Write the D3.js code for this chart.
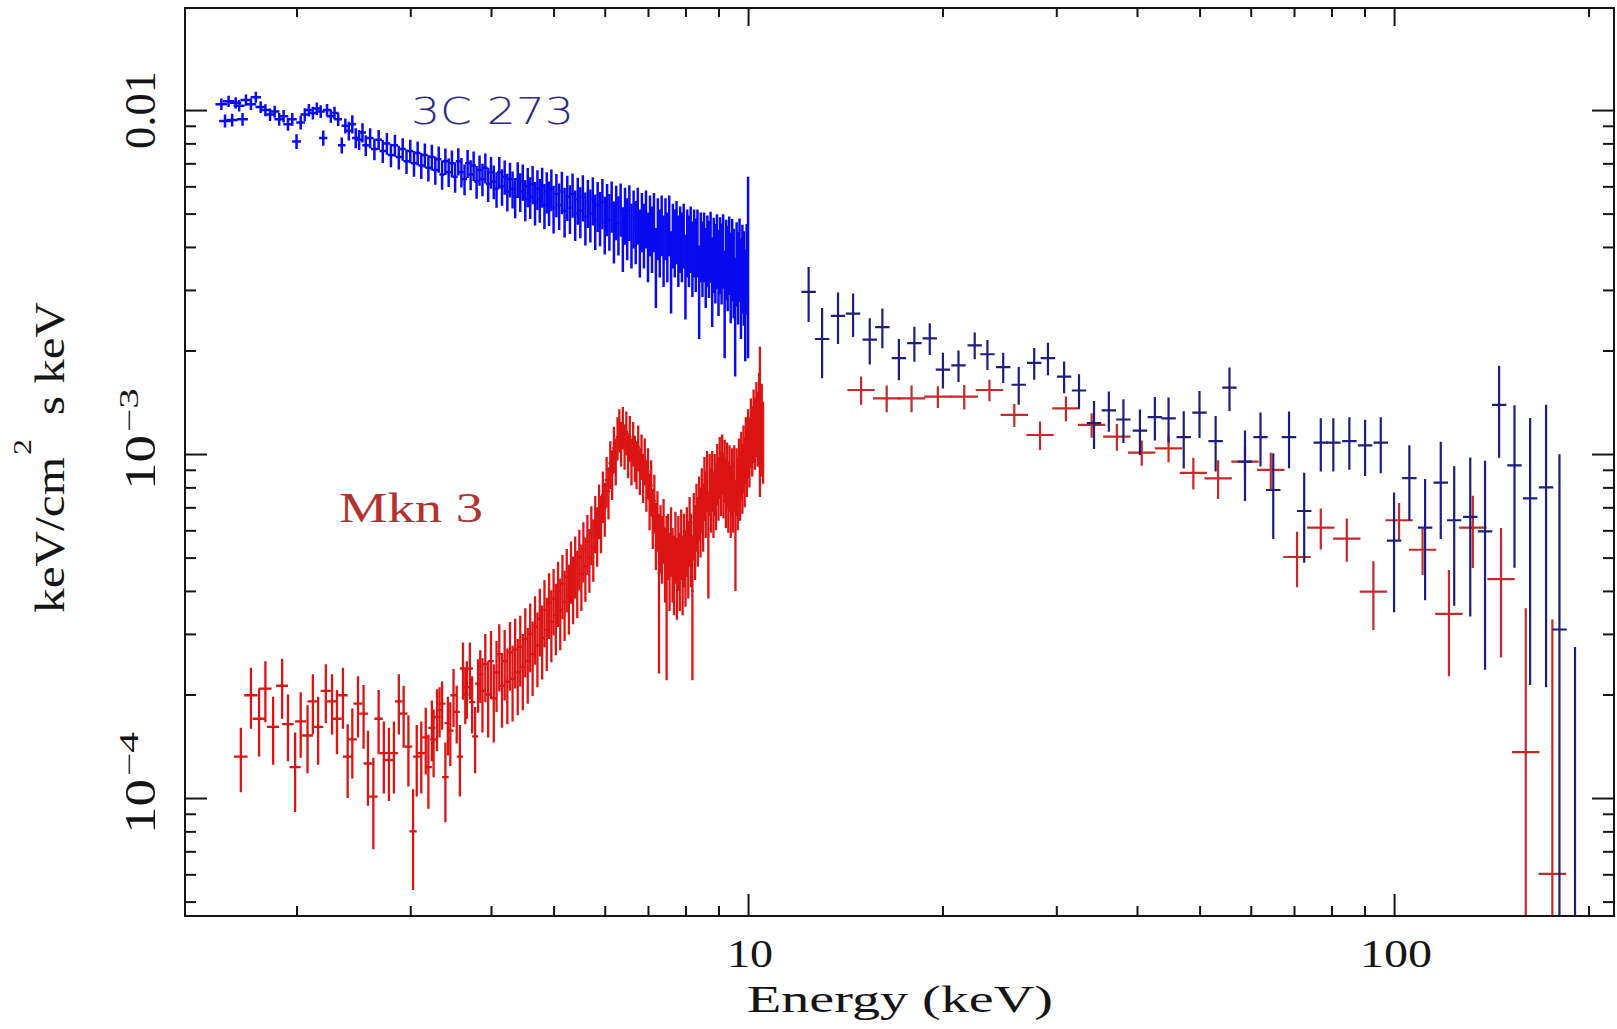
<!DOCTYPE html>
<html>
<head>
<meta charset="utf-8">
<script src="https://cdn.jsdelivr.net/npm/d3@7"></script>
<style>
  body { margin: 0; background: #fff; }
  svg { display: block; }
  .label { font-family: "Liberation Serif", "DejaVu Serif", serif; fill: #151515; }
</style>
</head>
<body>
<div id="chart"></div>
<script>
// flux values are in units of 1e-3 keV/cm2 s keV: [energy keV, flux, error]
const fluxUnit = 1e-3;

const soft3C273 = [
  [1.53,10.4,.40],[1.55,9.30,.40],[1.57,10.6,.40],[1.59,9.35,.40],[1.61,10.5,.40],[1.63,10.3,.40],[1.65,9.40,.40],[1.67,10.7,.40],
  [1.70,10.4,.40],[1.73,10.9,.40],[1.76,10.2,.40],[1.79,10.0,.40],[1.82,9.70,.40],[1.85,9.90,.40],[1.88,9.40,.40],[1.91,9.60,.40],
  [1.94,9.10,.40],[1.97,9.40,.40],[2.00,8.10,.40],[2.03,9.20,.42],[2.06,9.70,.42],[2.09,10.0,.42],[2.12,9.80,.42],[2.15,10.1,.42],
  [2.18,9.90,.42],[2.20,8.30,.42],[2.23,10.0,.42],[2.26,9.60,.42],[2.29,9.80,.42],[2.32,9.40,.42],[2.35,7.90,.42],[2.38,9.00,.45],
  [2.41,8.70,.55],[2.44,9.10,.55],[2.47,8.30,.55],[2.50,8.20,.55],[2.53,8.60,.55],[2.56,7.90,.55],[2.60,8.30,.55],[2.64,7.70,.55],
  [2.68,8.20,.55],[2.72,7.60,.58],[2.76,8.00,.58],[2.80,7.40,.58],[2.84,7.90,.58],[2.88,7.30,.58],[2.92,7.70,.58],[2.96,7.10,.58],
  [3.00,7.60,.60],[3.04,7.00,.60],[3.08,7.50,.60],[3.12,6.90,.60],[3.16,7.40,.60],[3.20,6.80,.60],[3.24,7.30,.63],[3.28,6.70,.63],
  [3.32,7.20,.63],[3.36,6.50,.63],[3.40,7.10,.63],[3.44,6.60,.63],[3.48,7.00,.63],[3.52,6.40,.65],[3.56,7.10,.65],[3.60,6.60,.65],
  [3.64,6.30,.65],[3.68,7.00,.65],[3.72,6.50,.65],[3.76,6.90,.68],[3.80,6.20,.68],[3.84,6.70,.68],[3.88,6.30,.68],[3.92,6.80,.68],
  [3.96,6.10,.70],[4.00,6.60,.70],[4.04,6.20,.70],[4.08,5.90,.70],[4.12,6.60,.70],[4.16,6.00,.73],[4.20,6.40,.73],[4.24,5.80,.73],
  [4.28,6.30,.73],[4.32,5.90,.73],[4.36,5.60,.75],[4.40,6.30,.75],[4.44,5.80,.75],[4.48,6.20,.75],[4.52,5.50,.75],[4.56,6.00,.78],
  [4.60,5.60,.78],[4.64,6.10,.78],[4.68,5.40,.78],[4.72,5.90,.78],[4.76,5.50,.80],[4.80,6.00,.80],[4.84,5.30,.80],[4.88,5.80,.80],
  [4.92,5.40,.80],[4.96,5.90,.82],[5.00,5.20,.82],[5.05,5.70,.82],[5.10,5.30,.82],[5.15,5.80,.82],[5.20,5.10,.84],[5.25,5.60,.84],
  [5.30,5.20,.84],[5.35,5.70,.84],[5.40,5.00,.84],[5.45,5.50,.86],[5.50,5.10,.86],[5.55,5.60,.86],[5.60,4.90,.86],[5.65,5.40,.86],
  [5.70,5.00,.88],[5.75,5.50,.88],[5.80,4.80,.88],[5.85,5.30,.88],[5.90,4.90,.88],[5.95,5.40,.90],[6.00,4.70,.90],[6.05,5.20,.90],
  [6.10,4.80,.90],[6.15,5.30,.90],[6.20,4.50,.92],[6.25,5.10,.92],[6.30,4.70,.92],[6.35,5.20,.92],[6.40,4.30,.92],[6.45,5.00,.94],
  [6.50,4.60,.94],[6.55,5.10,.94],[6.60,4.40,.94],[6.65,4.90,.94],[6.70,4.50,.94],[6.75,5.00,.94],[6.80,4.20,.94],[6.85,4.80,.94],
  [6.90,4.40,.94],[6.95,4.90,.94],[7.00,4.10,.94],[7.05,4.70,.94],[7.10,4.30,.94],[7.15,4.80,.94],[7.20,3.60,.94],[7.25,4.60,.94],
  [7.30,4.20,.94],[7.35,4.70,.94],[7.40,4.00,.94],[7.45,4.60,.94],[7.50,4.10,.94],[7.55,4.70,.94],[7.60,3.50,.94],[7.65,4.40,.94],
  [7.70,4.20,.94],[7.75,4.50,.94],[7.80,4.00,.94],[7.85,4.30,.94],[7.90,4.10,.94],[7.95,4.40,.94],[8.00,3.40,.94],[8.05,4.20,.94],
  [8.10,4.00,.94],[8.15,4.30,.94],[8.20,3.80,.94],[8.25,4.20,.94],[8.30,3.90,.94],[8.35,4.20,.94],[8.40,3.10,.94],[8.45,4.10,.94],
  [8.50,3.80,.94],[8.55,4.10,.94],[8.60,3.60,.94],[8.65,4.00,.94],[8.70,3.80,.96],[8.75,4.10,.96],[8.80,3.30,.96],[8.85,3.90,.96],
  [8.90,3.70,.96],[8.95,4.00,.98],[9.00,3.50,.98],[9.05,3.90,.98],[9.10,3.70,.98],[9.15,4.00,.98],[9.20,2.90,1.0],[9.25,3.80,1.0],
  [9.30,3.60,1.0],[9.35,3.90,1.0],[9.40,3.40,1.0],[9.45,3.80,1.02],[9.50,3.50,1.02],[9.55,2.70,1.02],[9.60,3.70,1.02],[9.65,3.40,1.02],
  [9.70,3.80,1.04],[9.75,3.20,1.04],[9.80,3.60,1.04],[9.85,3.40,1.04],[9.90,2.90,1.04],[9.95,3.60,1.06],[10.0,4.15,2.25]
];

const hard3C273 = [
  [12.41,2.96,.54],[13.02,2.16,.50],[13.78,2.52,.43],[14.54,2.56,.37],[15.43,2.15,.33],[16.14,2.34,.31],[17.12,1.90,.26],
  [18.09,2.10,.245],[19.11,2.17,.23],[20.03,1.76,.21],[21.17,1.81,.19],[22.43,2.07,.185],[23.47,1.95,.195],[24.83,1.79,.18],
  [26.24,1.59,.20],[27.73,1.84,.195],[29.12,1.90,.205],[30.85,1.68,.177],[32.53,1.53,.175],[34.32,1.23,.196],[36.18,1.34,.18],
  [38.11,1.26,.183],[40.42,1.17,.177],[42.63,1.28,.185],[44.76,1.27,.19],[47.25,1.12,.212],[49.98,1.32,.206],[52.94,1.09,.20],
  [55.62,1.56,.226],[58.78,0.95,.22],[62.12,1.12,.20],[65.01,0.786,.22],[68.77,1.12,.21],[72.59,0.683,.20],[77.01,1.08,.19],
  [80.54,1.08,.19],[85.27,1.09,.19],[90.18,1.06,.197],[95.37,1.08,.20],[100.0,0.56,.213],[105.6,0.851,.21],[111.7,0.611,.235],
  [118.1,0.826,.26],[123.9,0.642,.28],[131.2,0.657,.32],[138.3,0.596,.36],[145.4,1.39,.415],[153.6,0.927,.46],[162.4,0.743,.53],
  [171.9,0.80,.59],[180.3,0.309,.69],[190.6,0.03,.245]
];

const softMkn3 = [
  [1.64,.132,.028],[1.70,.199,.040],[1.75,.170,.038],[1.79,.208,.042],[1.84,.161,.036],[1.90,.212,.042],[1.94,.164,.036],[1.99,.123,.032],
  [2.03,.167,.036],[2.08,.152,.034],[2.12,.191,.038],[2.16,.161,.036],[2.22,.205,.040],[2.27,.191,.038],[2.31,.170,.036],[2.36,.199,.040],
  [2.40,.132,.032],[2.44,.148,.034],[2.49,.188,.038],[2.54,.176,.037],[2.58,.126,.031],[2.63,.101,.030],[2.68,.170,.036],[2.73,.135,.032],
  [2.78,.129,.031],[2.83,.135,.032],[2.88,.191,.038],[2.93,.176,.036],[2.98,.141,.033],[3.03,.080,.026],[3.07,.132,.031],[3.12,.135,.032],
  [3.17,.150,.033],[3.20,.123,.030],[3.24,.160,.032],[3.26,.148,.033],[3.30,.172,.035],[3.33,.180,.030],[3.36,.188,.030],[3.40,.115,.030],
  [3.43,.165,.032],[3.46,.157,.033],[3.50,.199,.038],[3.54,.178,.034],[3.58,.132,.031],[3.62,.238,.045],[3.65,.200,.036],[3.67,.210,.040],
  [3.71,.238,.045],[3.74,.190,.036],[3.78,.151,.033],[3.82,.215,.038],[3.85,.229,.040],
  [3.88,.205,.050],[3.92,.245,.055],[3.96,.200,.050],[4.00,.250,.056],[4.04,.195,.050],[4.08,.232,.054],[4.12,.262,.058],[4.16,.212,.052],
  [4.20,.250,.058],[4.24,.218,.054],[4.28,.265,.060],[4.32,.222,.055],[4.36,.270,.062],[4.40,.232,.058],[4.44,.275,.064],[4.48,.240,.060],
  [4.52,.290,.066],[4.56,.250,.062],[4.60,.300,.068],[4.64,.262,.064],[4.68,.315,.071],[4.72,.278,.068],[4.76,.332,.074],[4.80,.292,.071],
  [4.84,.352,.078],[4.88,.308,.074],[4.92,.370,.080],[4.96,.325,.077],[5.00,.380,.083],[5.04,.340,.080],[5.08,.400,.086],[5.12,.352,.083],
  [5.16,.420,.089],[5.20,.372,.086],[5.24,.438,.092],[5.28,.388,.089],[5.32,.462,.095],[5.36,.412,.092],[5.40,.478,.098],[5.44,.428,.095],
  [5.48,.502,.10],[5.52,.448,.098],[5.56,.528,.105],[5.60,.472,.10],[5.64,.555,.11],[5.68,.500,.105],[5.72,.590,.115],[5.76,.535,.11],
  [5.80,.635,.12],[5.84,.585,.115],[5.88,.690,.125],[5.92,.635,.12],[5.96,.760,.13],[6.00,.700,.125],[6.04,.840,.14],[6.08,.780,.135],
  [6.12,.940,.15],[6.16,.880,.145],[6.20,1.04,.16],[6.24,.960,.15],[6.28,1.12,.16],[6.32,1.18,.17],[6.36,1.08,.16],[6.40,1.20,.17],
  [6.44,1.06,.16],[6.48,1.16,.17],[6.52,1.00,.15],[6.56,1.12,.17],[6.60,.960,.15],[6.64,1.08,.16],[6.68,.980,.15],[6.72,.940,.15],
  [6.76,1.05,.16],[6.80,.900,.14],[6.84,.990,.15],[6.88,.860,.14],[6.92,.960,.15],[6.96,.820,.14],[7.00,.890,.15],[7.04,.740,.14],
  [7.08,.810,.15],[7.12,.660,.13],[7.16,.730,.14],[7.20,.590,.13],[7.24,.650,.13],[7.28,.450,.22],[7.32,.580,.13],[7.36,.540,.12],
  [7.40,.610,.13],[7.44,.490,.12],[7.48,.440,.22],[7.52,.550,.12],[7.56,.470,.12],[7.60,.570,.13],[7.64,.490,.12],[7.68,.460,.12],
  [7.72,.550,.13],[7.76,.450,.12],[7.80,.530,.13],[7.84,.470,.12],[7.88,.560,.13],[7.92,.460,.12],[7.96,.540,.13],[8.00,.480,.12],
  [8.04,.570,.13],[8.08,.510,.13],[8.12,.610,.14],[8.16,.540,.13],[8.20,.400,.18],[8.24,.630,.14],[8.28,.570,.14],[8.32,.670,.15],
  [8.36,.610,.14],[8.40,.710,.15],[8.44,.650,.15],[8.48,.750,.16],[8.52,.670,.15],[8.56,.810,.17],[8.60,.730,.16],[8.64,.850,.17],
  [8.68,.580,.20],[8.72,.830,.17],[8.76,.750,.16],[8.80,.850,.17],[8.84,.730,.16],[8.88,.830,.17],[8.92,.770,.17],[8.96,.890,.18],
  [9.00,.810,.17],[9.04,.930,.19],[9.08,.840,.18],[9.12,.950,.19],[9.16,.830,.18],[9.20,.910,.19],[9.24,.790,.18],[9.28,.890,.19],
  [9.32,.770,.18],[9.36,.870,.19],[9.40,.750,.18],[9.44,.850,.19],[9.48,.770,.18],[9.52,.870,.19],[9.56,.620,.22],[9.60,.850,.19],
  [9.64,.790,.19],[9.68,.910,.20],[9.72,.830,.19],[9.76,.950,.21],[9.80,.870,.20],[9.84,.990,.22],[9.88,.910,.21],[9.92,1.05,.23],
  [9.96,.970,.22],[10.00,1.10,.25],[10.05,1.04,.24],[10.10,1.18,.27],[10.15,1.12,.26],[10.20,1.24,.30],[10.25,1.18,.28],[10.30,1.30,.32],
  [10.35,1.22,.30],[10.40,1.32,.40],[10.43,1.40,.65],[10.47,1.16,.30],[10.50,1.26,.34],[10.55,1.12,.30]
];

const hardMkn3 = [
  [14.96,1.535,.145],[16.39,1.452,.13],[17.91,1.452,.13],[19.67,1.468,.107],[21.61,1.468,.12],[23.64,1.535,.11],[25.83,1.299,.10],
  [28.31,1.136,.108],[31.05,1.358,.113],[34.03,1.215,.10],[37.23,1.123,.10],[40.68,1.009,.085],[44.76,1.039,.093],[48.90,0.882,.093],
  [53.41,0.850,.11],[58.78,0.950,.105],[64.44,0.899,.11],[70.76,0.502,.092],[77.01,0.611,.083],[84.49,0.568,.082],[92.90,0.398,.09],
  [101.8,0.642,.079],[110.7,0.527,.082],[121.6,0.343,.117],[132.4,0.611,.145],[146.4,0.433,.177],[159.9,0.136,.22],[175.8,0.0602,.27]
];

const xDomain = [1.344, 219];
const yDomain = [4.54e-5, 0.0198];
const xMajorTicks = [10, 100];
const xMinorTicks = [2, 3, 4, 5, 6, 7, 8, 9, 20, 30, 40, 50, 60, 70, 80, 90, 200];
const yMajorTicks = [1e-4, 1e-3, 1e-2];
const yMinorTicks = [5e-5, 6e-5, 7e-5, 8e-5, 9e-5, 2e-4, 3e-4, 4e-4, 5e-4, 6e-4, 7e-4, 8e-4, 9e-4,
  2e-3, 3e-3, 4e-3, 5e-3, 6e-3, 7e-3, 8e-3, 9e-3];
const xTickLabels = ["10", "100"];
const yTickBases = ["0.01", "10", "10"];
const yTickExponents = ["", "\u22123", "\u22124"];

function renderChart(element) {
  const width = 1617;
  const height = 1029;
  const frame = { left: 185, right: 1614, top: 8, bottom: 916 };
  const ink = "#151515";

  const x = d3.scaleLog().domain(xDomain).range([frame.left, frame.right]);
  const y = d3.scaleLog().domain(yDomain).range([frame.bottom, frame.top]);

  const svg = d3
    .select(element)
    .append("svg")
    .attr("width", width)
    .attr("height", height);

  svg.append("defs")
    .append("clipPath")
    .attr("id", "plot-clip")
    .append("rect")
    .attr("x", frame.left)
    .attr("y", frame.top)
    .attr("width", frame.right - frame.left)
    .attr("height", frame.bottom - frame.top);

  const plot = svg.append("g").attr("clip-path", "url(#plot-clip)");

  const seriesList = [
    { data: softMkn3, color: "#dc1414", strokeWidth: 2.3, bin: (e) => [e - 0.04, e + 0.04] },
    { data: soft3C273, color: "#0a0af0", strokeWidth: 2.5, bin: (e) => [e - 0.032, e + 0.032] },
    { data: hardMkn3, color: "#c42a2a", strokeWidth: 2.2, bin: (e) => [e / 1.05, e * 1.05] },
    { data: hard3C273, color: "#1d1d7e", strokeWidth: 2.2, bin: (e) => [e / 1.026, e * 1.026] },
  ];

  seriesList.forEach(({ data, color, strokeWidth, bin }) => {
    plot
      .append("g")
      .attr("fill", "none")
      .attr("stroke", color)
      .attr("stroke-width", strokeWidth)
      .selectAll("path")
      .data(data)
      .join("path")
      .attr("d", ([e, f, df]) => {
        const [e0, e1] = bin(e);
        const yc = f > 0 ? y(f * fluxUnit) : frame.bottom + 40;
        const yLo = f - df > 0 ? y((f - df) * fluxUnit) : frame.bottom + 40;
        const yHi = y((f + df) * fluxUnit);
        return `M${x(e0)},${yc}H${x(e1)}M${x(e)},${yLo}V${yHi}`;
      });
  });

  // ticks on all four sides, pointing inwards
  const tickG = svg.append("g").attr("class", "ticks");
  const axisSpecs = [
    [d3.axisBottom(x), `translate(0,${frame.bottom})`, xMajorTicks, 22, xMinorTicks, 10],
    [d3.axisTop(x), `translate(0,${frame.top})`, xMajorTicks, 18, xMinorTicks, 9],
    [d3.axisLeft(y), `translate(${frame.left},0)`, yMajorTicks, 22, yMinorTicks, 11],
    [d3.axisRight(y), `translate(${frame.right},0)`, yMajorTicks, 22, yMinorTicks, 11],
  ];
  axisSpecs.forEach(([axis, transform, major, majorLen, minor, minorLen]) => {
    [[major, majorLen], [minor, minorLen]].forEach(([values, len]) => {
      tickG
        .append("g")
        .attr("transform", transform)
        .call(axis.tickValues(values).tickSize(-len).tickFormat(""))
        .call((g) => g.select(".domain").remove())
        .call((g) => g.selectAll(".tick line").attr("stroke", ink).attr("stroke-width", 2));
    });
  });

  svg.append("rect")
    .attr("x", frame.left)
    .attr("y", frame.top)
    .attr("width", frame.right - frame.left)
    .attr("height", frame.bottom - frame.top)
    .attr("fill", "none")
    .attr("stroke", ink)
    .attr("stroke-width", 2);

  // x tick labels
  svg.append("g")
    .selectAll("text")
    .data(xMajorTicks)
    .join("text")
    .attr("class", "label")
    .attr("x", (d) => x(d) + 2)
    .attr("y", 967)
    .attr("text-anchor", "middle")
    .attr("font-size", 40)
    .attr("textLength", (d, i) => (xTickLabels[i].length === 2 ? 46 : 72))
    .attr("lengthAdjust", "spacingAndGlyphs")
    .text((d, i) => xTickLabels[i]);

  // y tick labels, rotated
  const yLabelTicks = yMajorTicks.slice().reverse();
  const yLabel = svg.append("g")
    .selectAll("g")
    .data(yLabelTicks)
    .join("g")
    .attr("transform", (d) => `translate(155,${y(d)}) rotate(-90)`);

  yLabel.append("text")
    .attr("class", "label")
    .attr("font-size", 45)
    .attr("x", (d, i) => (yTickExponents[i] ? -36 : 0))
    .attr("text-anchor", (d, i) => (yTickExponents[i] ? "start" : "middle"))
    .attr("textLength", (d, i) => (yTickExponents[i] ? 55 : 78))
    .attr("lengthAdjust", "spacingAndGlyphs")
    .text((d, i) => yTickBases[i]);

  yLabel.filter((d, i) => yTickExponents[i])
    .append("text")
    .attr("class", "label")
    .attr("font-size", 27)
    .attr("x", 22)
    .attr("y", -17)
    .attr("textLength", 44)
    .attr("lengthAdjust", "spacingAndGlyphs")
    .text((d) => yTickExponents[yLabelTicks.indexOf(d)]);

  // axis titles
  svg.append("text")
    .attr("class", "label")
    .attr("x", 747)
    .attr("y", 1012)
    .attr("font-size", 37)
    .attr("textLength", 306)
    .attr("lengthAdjust", "spacingAndGlyphs")
    .text("Energy (keV)");

  const yTitle = svg.append("g").attr("transform", "translate(64,460) rotate(-90)");
  yTitle.append("text")
    .attr("class", "label")
    .attr("x", -153)
    .attr("font-size", 42)
    .attr("textLength", 156)
    .attr("lengthAdjust", "spacingAndGlyphs")
    .text("keV/cm");
  yTitle.append("text")
    .attr("class", "label")
    .attr("x", 5)
    .attr("y", -33)
    .attr("font-size", 26)
    .attr("textLength", 16)
    .attr("lengthAdjust", "spacingAndGlyphs")
    .text("2");
  yTitle.append("text")
    .attr("class", "label")
    .attr("x", 45)
    .attr("font-size", 42)
    .attr("textLength", 113)
    .attr("lengthAdjust", "spacingAndGlyphs")
    .text("s keV");

  // source names
  svg.append("text")
    .attr("x", 411)
    .attr("y", 124)
    .attr("font-family", "'DejaVu Sans', 'Liberation Sans', sans-serif")
    .attr("font-weight", 300)
    .attr("font-size", 37)
    .attr("fill", "#2a2a88")
    .attr("textLength", 163)
    .attr("lengthAdjust", "spacingAndGlyphs")
    .text("3C 273");

  svg.append("text")
    .attr("class", "label")
    .attr("x", 339)
    .attr("y", 522)
    .attr("font-size", 42)
    .style("fill", "#b23232")
    .attr("textLength", 144)
    .attr("lengthAdjust", "spacingAndGlyphs")
    .text("Mkn 3");
}

renderChart(document.getElementById("chart"));
</script>
</body>
</html>
